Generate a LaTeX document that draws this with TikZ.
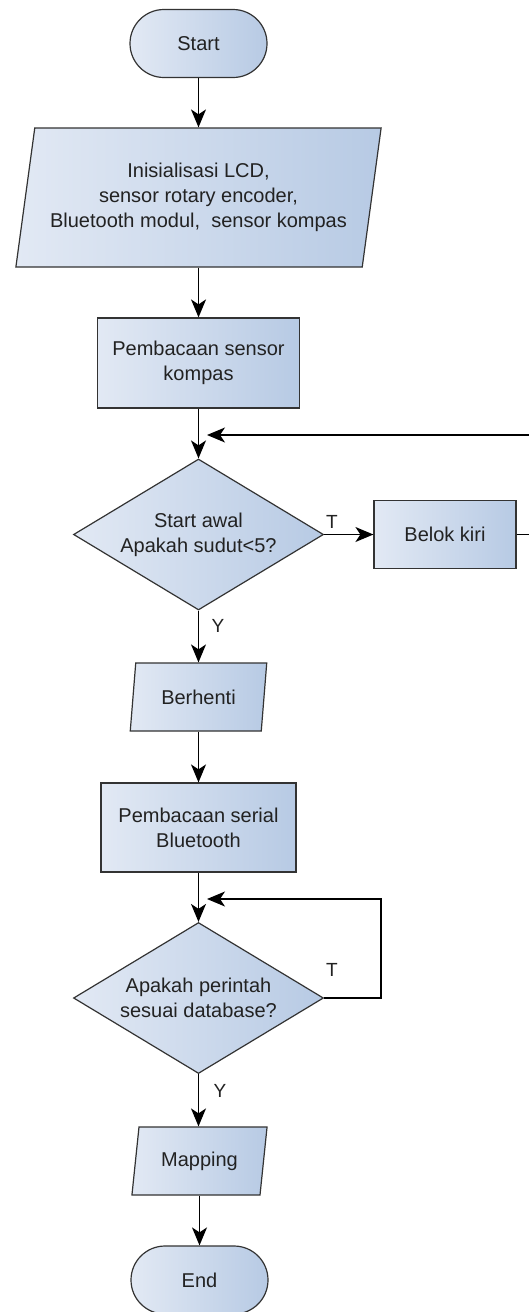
\documentclass[tikz,border=0pt]{standalone}
\usepackage{fontspec}
\setmainfont{Liberation Sans}
\usetikzlibrary{shapes.geometric,arrows.meta}
\definecolor{lineC}{HTML}{333333}
\definecolor{fillL}{HTML}{E2E9F4}
\definecolor{fillR}{HTML}{B7CAE4}
\definecolor{txt}{HTML}{222222}
\begin{document}
\begin{tikzpicture}[
  base/.style={draw=lineC, line width=1.2pt, left color=fillL, right color=fillR,
    text=txt, font=\fontsize{20}{25}\selectfont, align=center, inner sep=0pt},
  term/.style={base, rectangle, rounded corners=34pt, minimum width=137pt, minimum height=68pt},
  proc/.style={base, rectangle},
  iobox/.style={base, trapezium, trapezium stretches=true},
  dec/.style={base, diamond, aspect=1.656, minimum width=250pt, minimum height=151pt},
  arr/.style={draw=black, line width=1.4pt,
    -{Stealth[length=18pt,width=15pt,inset=5pt,fill=black]}},
  lbl/.style={font=\fontsize{19}{22}\selectfont, text=txt, inner sep=0pt}
]
\useasboundingbox[fill=white] (0pt,0pt) rectangle (528pt,-1312pt);

\node[term] (start) at (198.5pt,-43.5pt) {Start};
\node[iobox, trapezium left angle=76, trapezium right angle=104,
  minimum width=367pt, minimum height=139pt] (init) at (198.5pt,-197.5pt)
  {Inisialisasi LCD,\\sensor rotary encoder,\\Bluetooth modul, \ sensor kompas};
\node[proc, minimum width=202pt, minimum height=90pt] (read) at (198.5pt,-363pt)
  {Pembacaan sensor\\kompas};
\node[dec] (dec1) at (198.5pt,-534.5pt) {Start awal\\Apakah sudut<5?};
\node[proc, minimum width=142pt, minimum height=68pt] (belok) at (445pt,-534.5pt) {Belok kiri};
\node[iobox, trapezium left angle=77.5, trapezium right angle=102.5,
  minimum width=137pt, minimum height=68pt] (stop) at (198.5pt,-697pt) {Berhenti};
\node[proc, minimum width=195pt, minimum height=89pt] (serial) at (198.5pt,-827.5pt)
  {Pembacaan serial\\Bluetooth};
\node[dec] (dec2) at (198.5pt,-998pt) {Apakah perintah\\sesuai database?};
\node[iobox, trapezium left angle=76.5, trapezium right angle=103.5,
  minimum width=136pt, minimum height=68pt] (map) at (199.5pt,-1161pt) {Mapping};
\node[term] (end) at (199.5pt,-1280pt) {End};

\coordinate (l1) at (207pt,-435pt);
\coordinate (l2) at (207pt,-899pt);

\draw[arr] (start.south) -- (start.south |- init.north);
\draw[arr] (init.south) -- (init.south |- read.north);
\draw[arr] (read.south) -- (read.south |- dec1.north);
\draw[arr] (dec1.east) -- (belok.west);
\draw[arr] (belok.east) -- ++(22pt,0pt) |- (l1);
\draw[arr] (dec1.south) -- (dec1.south |- stop.north);
\draw[arr] (stop.south) -- (stop.south |- serial.north);
\draw[arr] (serial.south) -- (serial.south |- dec2.north);
\draw[arr] (dec2.east) -- ++(57pt,0pt) |- (l2);
\draw[arr] (dec2.south) -- (dec2.south |- map.north);
\draw[arr] (map.south) -- (map.south |- end.north);

\node[lbl] (t1) at (332pt,-522pt) {T};
\node[lbl] (y1) at (218pt,-626pt) {Y};
\node[lbl] (t2) at (332pt,-970pt) {T};
\node[lbl] (y2) at (220pt,-1091pt) {Y};
\end{tikzpicture}
\end{document}
